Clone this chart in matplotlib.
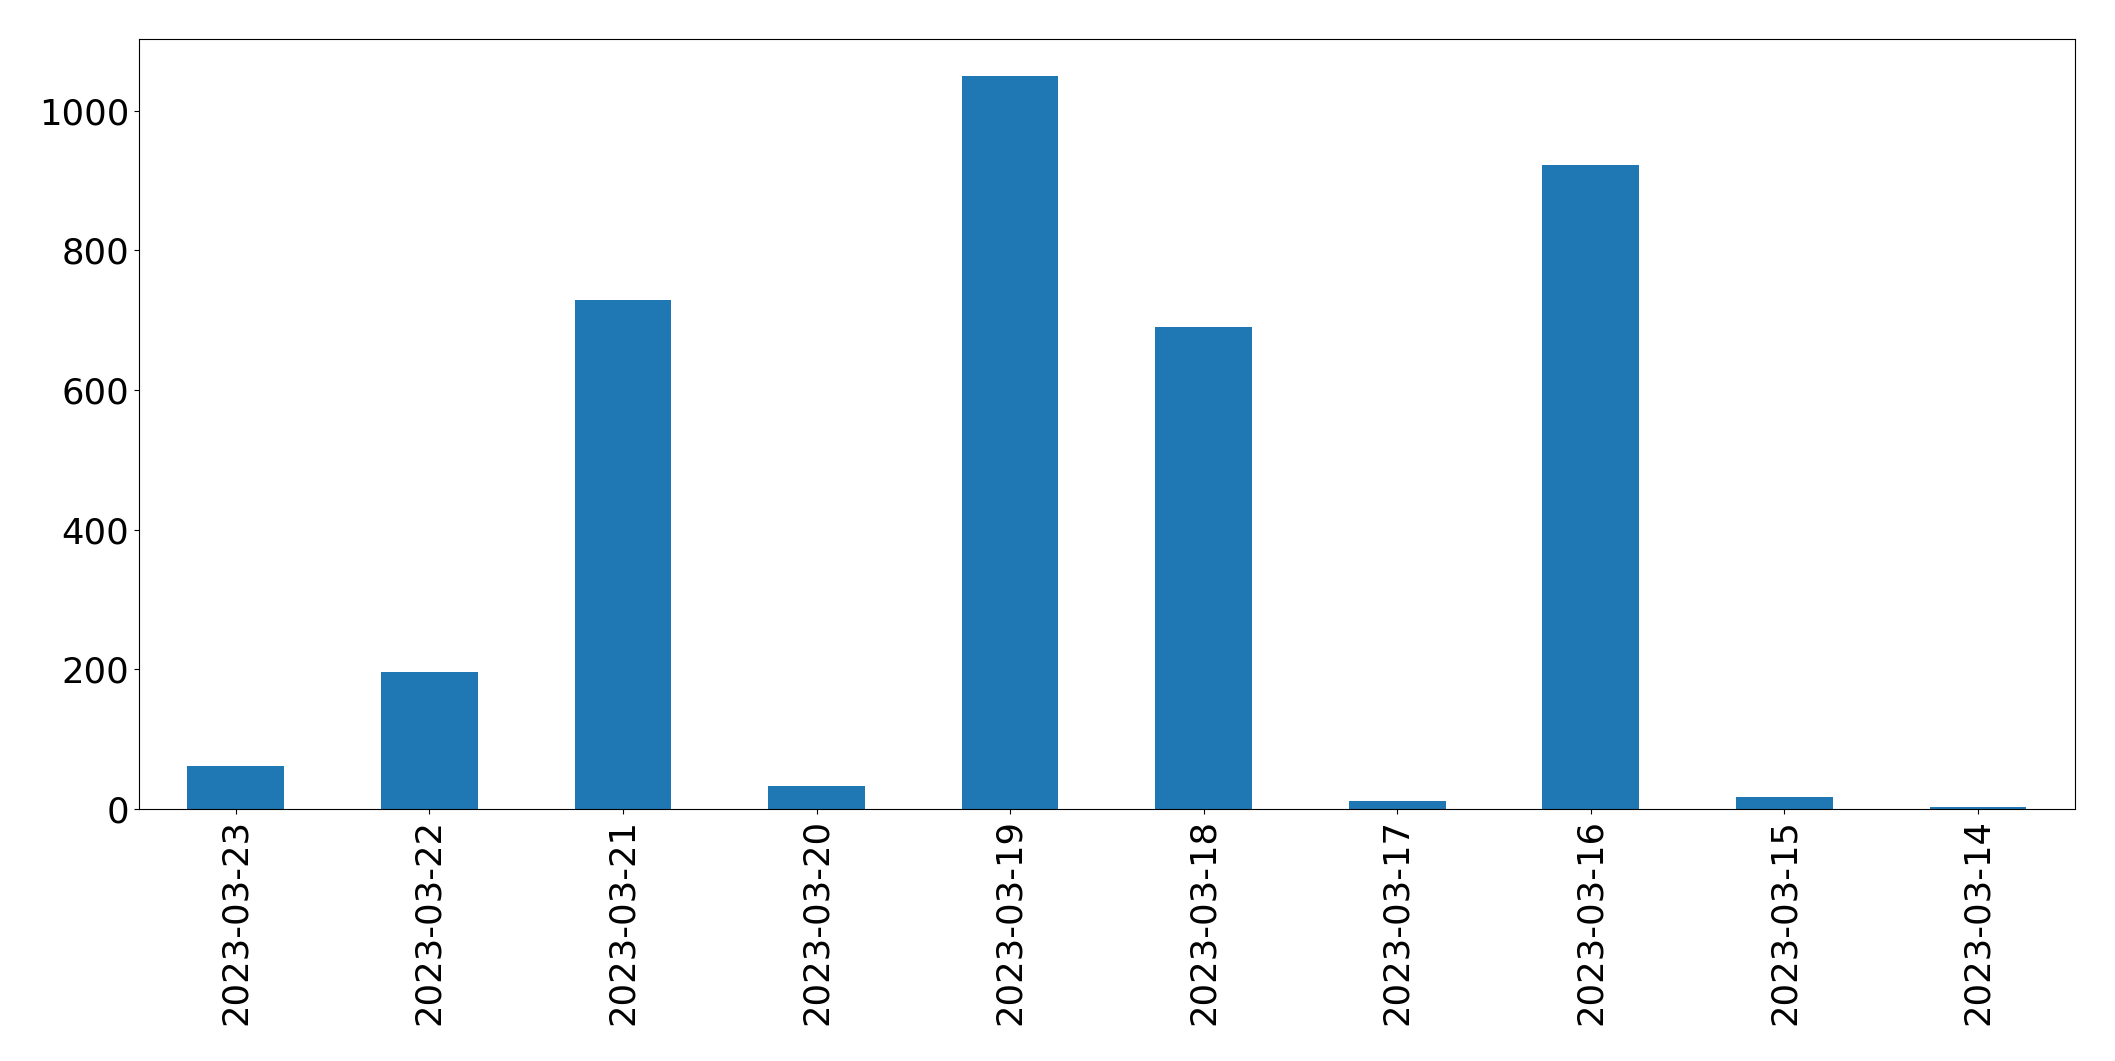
import matplotlib
matplotlib.use("Agg")
import matplotlib.pyplot as plt

# Dados
datas = ["2023-03-23", "2023-03-22", "2023-03-21", "2023-03-20", "2023-03-19",
         "2023-03-18", "2023-03-17", "2023-03-16", "2023-03-15", "2023-03-14"]
valores = [62, 196, 729, 33, 1049, 690, 11, 922, 17, 3]

fig, ax = plt.subplots(figsize=(21.15, 10.61), dpi=100)
fig.subplots_adjust(left=0.0657, right=0.981, top=0.963, bottom=0.2375)

x = range(len(datas))
ax.bar(x, valores, width=0.5, color="#1f77b4")
ax.set_xticks(list(x))
ax.set_xticklabels(datas, rotation=90)
ax.set_xlim(-0.5, len(datas) - 0.5)
ax.set_ylim(0, 1102)
ax.tick_params(labelsize=25.5)

fig.savefig("out.png", dpi=100)
